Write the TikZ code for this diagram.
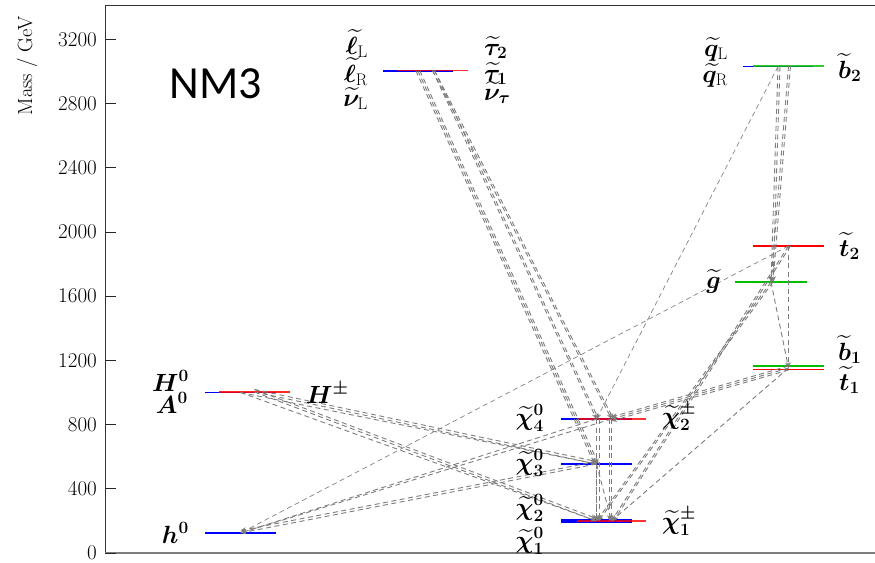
\documentclass[tikz,border=0pt]{standalone}
\usepackage{fontspec}
\usepackage{amsmath,bm}
\usetikzlibrary{arrows.meta,calc}
\newfontfamily\nmfont{Carlito}
\definecolor{lblue}{rgb}{0,0,1}
\definecolor{lred}{rgb}{1,0,0}
\definecolor{lgreen}{RGB}{0,190,0}
\definecolor{decgray}{RGB}{125,125,125}
\begin{document}
\begin{tikzpicture}[x=1pt,y=-1pt,
  lev/.style={line width=1.6pt},
  dec/.style={draw=decgray, line width=0.9pt, dash pattern=on 5pt off 3.5pt, -{Stealth[length=5.5pt,width=4.5pt]}},
  lab/.style={font=\fontsize{24}{28}\selectfont, inner sep=0pt},
  ticklab/.style={font=\fontsize{21}{25}\selectfont, anchor=east, inner sep=0pt}]
\useasboundingbox (0,0) rectangle (875,562);
\fill[white] (0,0) rectangle (875,562);
% frame
\draw[line width=0.9pt, black!80] (105,553) -- (105,5.7) -- (875,5.7);
\draw[line width=1.1pt, decgray] (105,553) -- (875,553);
% ticks
\foreach \m in {0,400,...,3200} {
  \draw[line width=0.8pt, black!85] (105,{553-0.1605*\m}) -- (116,{553-0.1605*\m});
  \node[ticklab] (t\m) at (97,{553-0.1605*\m}) {\m};
}
\node[rotate=90, anchor=east, inner sep=0pt, font=\fontsize{20.5}{24}\selectfont] (ylab) at (27,16) {Mass / GeV};
\node[inner sep=0pt, font=\nmfont\fontsize{46}{50}\selectfont] (title) at (216,84) {NM3};
% centres
\coordinate (sl) at (418,71);
\coordinate (st) at (432.5,70.5);
\coordinate (sq) at (778,66.5);
\coordinate (bb2) at (788.5,66);
\coordinate (tt2) at (788.5,246);
\coordinate (gl) at (771,282);
\coordinate (tt1) at (788.5,368);
\coordinate (x4) at (596.5,419);
\coordinate (c2) at (611.5,419);
\coordinate (x3) at (596.5,464);
\coordinate (x1) at (596.5,521);
\coordinate (c1) at (611.5,521);
\coordinate (hH) at (240.5,392.5);
\coordinate (hC) at (254.5,392);
\coordinate (hl) at (240.5,533);
% levels
\draw[lev, lblue] (205,533) -- (276,533);
\draw[lev, lblue] (205,392.5) -- (276,392.5);
\draw[lev, lred, opacity=0.85] (219,391.8) -- (290,391.8);
\draw[lev, lblue] (383,71) -- (453,71);
\draw[lev, lred, opacity=0.8] (397,70.5) -- (468,70.5);
\draw[lev, lblue] (743,66.5) -- (813,66.5);
\draw[lev, lgreen, opacity=0.8] (753,66) -- (824,66);
\draw[lev, lred] (753,246) -- (824,246);
\draw[lev, lgreen] (735,282) -- (807,282);
\draw[lev, lgreen] (753,366) -- (824,366);
\draw[lev, lred] (753,369.5) -- (824,369.5);
\draw[lev, lblue] (561,419) -- (632,419);
\draw[lev, lred, opacity=0.8] (577,419) -- (646,419);
\draw[lev, lblue] (561,464) -- (632,464);
\draw[lev, lblue] (561,520) -- (632,520);
\draw[lev, lblue] (561,522) -- (632,522);
\draw[lev, lred, opacity=0.8] (577,521) -- (646,521);
% decays
\foreach \o in {-2,0,2} \draw[dec] ([xshift=\o pt]sl) -- ([xshift=\o pt]x3);
\foreach \o in {0,2} \draw[dec] ([xshift=\o pt]st) -- ([xshift=\o pt]x4);
\foreach \o in {0,2} \draw[dec] ([xshift=\o pt]st) -- ([xshift=\o pt]c2);
\foreach \o in {0,2} \draw[dec] ([xshift=\o pt]sq) -- ([xshift=\o pt]gl);
\foreach \o in {0,2} \draw[dec] ([xshift=\o pt]bb2) -- ([xshift=\o pt]gl);
\draw[dec, line width=0.65pt] (sq) -- (x4);
\draw[dec] (tt2) -- (tt1);
\draw[dec] (gl) -- (tt1);
\foreach \o in {0,2} \draw[dec] ([xshift=\o pt]tt2) -- ([xshift=\o pt]c1);
\foreach \o in {0,2} \draw[dec] ([xshift=\o pt]gl) -- ([xshift=\o pt]x1);
\foreach \o in {-2,0,2} \draw[dec] ([yshift=\o pt]tt1) -- ([yshift=\o pt]c2);
\draw[dec] (tt1) -- (c1);
\foreach \o in {0,3} \draw[dec] ([xshift=\o pt]x4) -- ([xshift=\o pt]x1);
\foreach \o in {0,-2} \draw[dec] ([xshift=\o pt]c2) -- ([xshift=\o pt]c1);
\draw[dec] (x3) -- (x1);
\draw[dec] (x3) -- (c1);
\foreach \o in {0,2.5} \draw[dec] ([yshift=\o pt]hC) -- ([yshift=\o pt]x3);
\draw[dec] (hH) -- (x3);
\foreach \o in {0,2.5} \draw[dec] ([yshift=\o pt]hC) -- ([yshift=\o pt]x1);
\draw[dec] (hH) -- (x1);
\draw[dec] (x4) -- (hl);
\draw[dec] (c2) -- (hl);
\foreach \o in {0,2.5} \draw[dec] ([yshift=\o pt]x3) -- ([yshift=\o pt]hl);
\draw[dec, line width=0.65pt] (tt2) -- (hl);
% labels
\node[lab, anchor=base east] (lH0) at (189,391) {$\bm{H}^{\bm 0}$};
\node[lab, anchor=base east] (lA0) at (188,413) {$\bm{A}^{\bm 0}$};
\node[lab, anchor=base west] (lHc) at (306,403) {$\bm{H}^{\bm\pm}$};
\node[lab, anchor=base east] (lh0) at (189,543) {$\bm{h}^{\bm 0}$};
\node[lab, anchor=base east] (lsL) at (368,54) {$\widetilde{\bm\ell}_{\mathrm{L}}$};
\node[lab, anchor=base east] (lsR) at (368,82) {$\widetilde{\bm\ell}_{\mathrm{R}}$};
\node[lab, anchor=base east] (lnL) at (368,106) {$\widetilde{\bm\nu}_{\mathrm{L}}$};
\node[lab, anchor=base west] (lta2) at (484,55) {$\widetilde{\bm\tau}_{\bm 2}$};
\node[lab, anchor=base west] (lta1) at (484,81) {$\widetilde{\bm\tau}_{\bm 1}$};
\node[lab, anchor=base west] (lnt) at (484,100) {$\widetilde{\bm\nu}_{\bm\tau}$};
\node[lab, anchor=base east] (lqL) at (728,56) {$\widetilde{\bm q}_{\mathrm{L}}$};
\node[lab, anchor=base east] (lqR) at (728,82) {$\widetilde{\bm q}_{\mathrm{R}}$};
\node[lab, anchor=base west] (lb2) at (838,78) {$\widetilde{\bm b}_{\bm 2}$};
\node[lab, anchor=base west] (lt2) at (839,256) {$\widetilde{\bm t}_{\bm 2}$};
\node[lab, anchor=base east] (lg) at (721,288) {$\widetilde{\bm g}$};
\node[lab, anchor=base west] (lb1) at (838,360) {$\widetilde{\bm b}_{\bm 1}$};
\node[lab, anchor=base west] (lt1) at (839,390) {$\widetilde{\bm t}_{\bm 1}$};
\node[lab, anchor=base east] (lx4) at (544,425) {$\widetilde{\bm\chi}^{\bm 0}_{\bm 4}$};
\node[lab, anchor=base east] (lx3) at (544,470) {$\widetilde{\bm\chi}^{\bm 0}_{\bm 3}$};
\node[lab, anchor=base east] (lx2) at (544,515) {$\widetilde{\bm\chi}^{\bm 0}_{\bm 2}$};
\node[lab, anchor=base east] (lx1) at (544,548) {$\widetilde{\bm\chi}^{\bm 0}_{\bm 1}$};
\node[lab, anchor=base west] (lc2) at (662,424) {$\widetilde{\bm\chi}^{\bm\pm}_{\bm 2}$};
\node[lab, anchor=base west] (lc1) at (662,529) {$\widetilde{\bm\chi}^{\bm\pm}_{\bm 1}$};
\end{tikzpicture}
\end{document}
